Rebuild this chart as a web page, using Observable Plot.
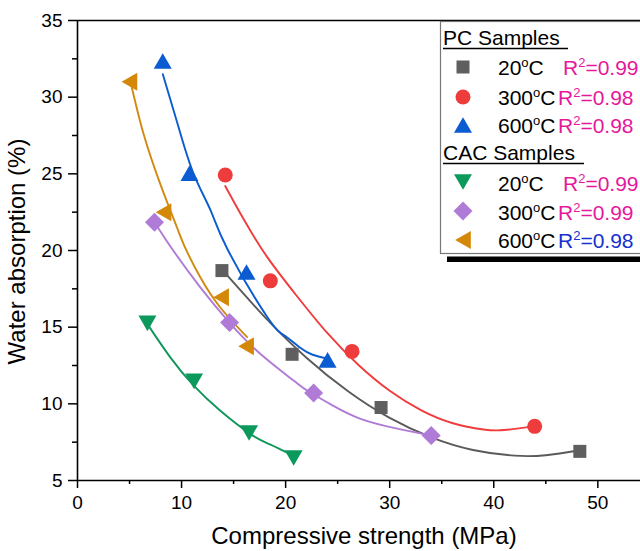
<!DOCTYPE html>
<html>
<head>
<meta charset="utf-8">
<script src="https://cdn.jsdelivr.net/npm/d3@7"></script>
<script src="https://cdn.jsdelivr.net/npm/@observablehq/plot@0.6"></script>
<style>
  html, body { margin: 0; padding: 0; background: #fff; }
  #chart svg { display: block; }
</style>
</head>
<body>
<div id="chart"></div>
<script>
// ---------- data ----------
const xMajorTicks = [0, 10, 20, 30, 40, 50];
const xMinorTicks = [5, 15, 25, 35, 45];
const yMajorTicks = [5, 10, 15, 20, 25, 30, 35];
const yMinorTicks = [7.5, 12.5, 17.5, 22.5, 27.5, 32.5];

// PC samples
const pc20Strength = [13.88, 20.62, 29.17, 48.27];
const pc20Absorption = [18.69, 13.23, 9.76, 6.9];
const pc300Strength = [14.2, 18.53, 26.38, 43.93];
const pc300Absorption = [24.92, 18.02, 13.42, 8.53];
const pc600Strength = [8.19, 10.76, 16.24, 24.03];
const pc600Absorption = [32.36, 25.05, 18.6, 12.87];
// CAC samples
const cac20Strength = [6.72, 11.2, 16.49, 20.77];
const cac20Absorption = [15.25, 11.46, 8.1, 6.47];
const cac300Strength = [7.4, 14.61, 22.69, 33.99];
const cac300Absorption = [21.84, 15.3, 10.71, 7.93];
const cac600Strength = [4.99, 8.27, 13.8, 16.2];
const cac600Absorption = [31.0, 22.5, 16.95, 13.75];

// fitted curves
const pc20FitX = [13.9, 18, 22, 26, 30, 34, 38, 42, 45, 48.3];
const pc20FitY = [18.75, 15.66, 13.01, 10.82, 9.08, 7.81, 6.99, 6.62, 6.65, 6.97];
const pc300FitX = [14.2, 16, 18.2, 21, 24, 27, 30, 33, 36, 39, 41, 43.9];
const pc300FitY = [24.2, 22.0, 19.6, 17.1, 14.62, 12.53, 10.85, 9.59, 8.75, 8.33, 8.29, 8.53];
const pc600FitX = [8.2, 9.6, 11.1, 12.8, 14.4, 18.2, 20.0, 21.4, 22.6, 24.0];
const pc600FitY = [31.5, 28.3, 25.1, 22.6, 20.1, 15.7, 14.4, 13.65, 13.2, 12.95];
const cac20FitX = [6.72, 8.9, 11.15, 13.7, 16.6, 18.5, 20.77];
const cac20FitY = [15.2, 13.05, 11.2, 9.56, 8.04, 7.35, 6.6];
const cac300FitX = [7.4, 9.2, 11.8, 14.6, 17.5, 20.8, 22.1, 24.5, 27.2, 30.4, 34.0];
const cac300FitY = [21.85, 20.0, 17.6, 15.3, 13.3, 11.5, 10.85, 9.9, 9.02, 8.43, 7.93];
const cac600FitX = [5.2, 6.35, 7.95, 9.56, 10.4, 11.8, 13.7, 16.3];
const cac600FitY = [30.7, 27.6, 24.35, 21.5, 20.1, 18.25, 16.3, 14.35];

// legend texts
const legendGroups = ["PC Samples", "CAC Samples"];
const legendTemps = ["20", "300", "600", "20", "300", "600"];
const legendR2 = ["0.99", "0.98", "0.98", "0.99", "0.99", "0.98"];

const xTitle = "Compressive strength (MPa)";
const yTitle = "Water absorption (%)";

// ---------- symbols ----------
function polySymbol(fn) {
  return {
    draw(ctx, size) {
      const r = Math.sqrt(size / Math.PI);
      const p = fn(r);
      ctx.moveTo(p[0][0], p[0][1]);
      for (let i = 1; i < p.length; i++) ctx.lineTo(p[i][0], p[i][1]);
      ctx.closePath();
    }
  };
}
const symSquare = polySymbol(r => [[-r, -r], [r, -r], [r, r], [-r, r]]);
const symTriUp = polySymbol(r => [[0, -0.87 * r], [r, 0.87 * r], [-r, 0.87 * r]]);
const symTriDown = polySymbol(r => [[0, 0.87 * r], [r, -0.87 * r], [-r, -0.87 * r]]);
const symTriLeft = polySymbol(r => [[-0.87 * r, 0], [0.87 * r, -r], [0.87 * r, r]]);
const symDiamond = polySymbol(r => [[0, -r], [r, 0], [0, r], [-r, 0]]);

const series = [
  {x: pc20Strength, y: pc20Absorption, fx: pc20FitX, fy: pc20FitY, fill: "#5f5f5f", stroke: "#5a5a5a", symbol: symSquare, r: 6.5},
  {x: pc300Strength, y: pc300Absorption, fx: pc300FitX, fy: pc300FitY, fill: "#ee3b3b", stroke: "#f03c3c", symbol: "circle", r: 7.5},
  {x: pc600Strength, y: pc600Absorption, fx: pc600FitX, fy: pc600FitY, fill: "#0a5cd0", stroke: "#0a5cd0", symbol: symTriUp, r: 9},
  {x: cac20Strength, y: cac20Absorption, fx: cac20FitX, fy: cac20FitY, fill: "#0b9a5c", stroke: "#10965a", symbol: symTriDown, r: 9},
  {x: cac300Strength, y: cac300Absorption, fx: cac300FitX, fy: cac300FitY, fill: "#b07bd6", stroke: "#b07bd6", symbol: symDiamond, r: 9.5},
  {x: cac600Strength, y: cac600Absorption, fx: cac600FitX, fy: cac600FitY, fill: "#d4880a", stroke: "#d08a10", symbol: symTriLeft, r: 9}
];

const lineMarks = series.map(s =>
  Plot.line(s.fx.map((x, i) => ({x, y: s.fy[i]})), {x: "x", y: "y", stroke: s.stroke, strokeWidth: 1.9, curve: "natural"})
);
const dotMarks = series.map(s =>
  Plot.dot(s.x.map((x, i) => ({x, y: s.y[i]})), {x: "x", y: "y", fill: s.fill, stroke: "none", symbol: s.symbol, r: s.r})
);

const FONT = "'Liberation Sans', Arial, Helvetica, sans-serif";

const chart = Plot.plot({
  width: 640,
  height: 551,
  marginLeft: 77,
  marginRight: 0,
  marginTop: 20,
  marginBottom: 71,
  style: {fontFamily: FONT, background: "#fff", color: "#000"},
  x: {domain: [0, 54.1]},
  y: {domain: [5, 35]},
  marks: [
    Plot.axisX({ticks: xMinorTicks, tickSize: 4, tickFormat: () => "", label: null, strokeWidth: 1.5}),
    Plot.axisX({ticks: xMajorTicks, tickSize: 8, tickPadding: 7, fontSize: 19, label: null, strokeWidth: 1.5, tickFormat: d => String(d)}),
    Plot.axisY({ticks: yMinorTicks, tickSize: 5, tickFormat: () => "", label: null, strokeWidth: 1.5}),
    Plot.axisY({ticks: yMajorTicks, tickSize: 9, tickPadding: 6, fontSize: 19, label: null, strokeWidth: 1.5, tickFormat: d => String(d)}),
    Plot.ruleX([0], {stroke: "#000", strokeWidth: 1.6}),
    Plot.ruleY([5], {stroke: "#000", strokeWidth: 1.6}),
    Plot.ruleY([35], {stroke: "#000", strokeWidth: 1.6}),
    ...lineMarks,
    ...dotMarks,
    Plot.text([xTitle], {frameAnchor: "bottom", textAnchor: "middle", dx: 5, dy: 63, fontSize: 24, fill: "#000"}),
    Plot.text([yTitle], {frameAnchor: "left", textAnchor: "middle", rotate: -90, dx: -60, dy: 1, fontSize: 24, fill: "#000"})
  ]
});

document.getElementById("chart").appendChild(chart);

// ---------- legend (inside plot area, top right) ----------
const svg = d3.select(chart);
const lg = svg.append("g").attr("font-family", FONT).attr("font-size", 21).attr("text-anchor", "start");
lg.append("rect").attr("x", 447).attr("y", 256.5).attr("width", 220).attr("height", 5.5).attr("fill", "#000");
lg.append("rect").attr("x", 440.5).attr("y", 21.5).attr("width", 260).attr("height", 232)
  .attr("fill", "#fff").attr("stroke", "#777").attr("stroke-width", 1.2);

const groupBase = [45, 160];
const groupLine = [[48.5, 568], [163.5, 584]];
legendGroups.forEach((t, i) => {
  lg.append("text").attr("x", 443).attr("y", groupBase[i]).attr("fill", "#000").text(t);
  lg.append("line").attr("x1", 443).attr("x2", groupLine[i][1]).attr("y1", groupLine[i][0]).attr("y2", groupLine[i][0])
    .attr("stroke", "#000").attr("stroke-width", 1.5);
});

const rowCenter = [67, 97, 125, 182, 211, 240];
const rowBase = [75, 105, 133, 191, 220, 248];
const r2Colors = ["#e5189c", "#e5189c", "#e5189c", "#e5189c", "#e5189c", "#1530d0"];
series.forEach((s, i) => {
  const sym = typeof s.symbol === "string" ? d3.symbolCircle : s.symbol;
  lg.append("path")
    .attr("transform", `translate(463,${rowCenter[i]})`)
    .attr("d", d3.symbol(sym, Math.PI * s.r * s.r)())
    .attr("fill", s.fill);
  const t = lg.append("text").attr("x", 498).attr("y", rowBase[i]).attr("fill", "#000");
  t.append("tspan").text(legendTemps[i]);
  t.append("tspan").attr("dy", -8).attr("font-size", 13).text("o");
  t.append("tspan").attr("dy", 8).text("C");
  const rx = legendTemps[i] === "20" ? 563 : 558;
  const r = lg.append("text").attr("x", rx).attr("y", rowBase[i]).attr("fill", r2Colors[i]);
  r.append("tspan").text("R");
  r.append("tspan").attr("dy", -8).attr("font-size", 13).text("2");
  r.append("tspan").attr("dy", 8).text("=" + legendR2[i]);
});
</script>
</body>
</html>
